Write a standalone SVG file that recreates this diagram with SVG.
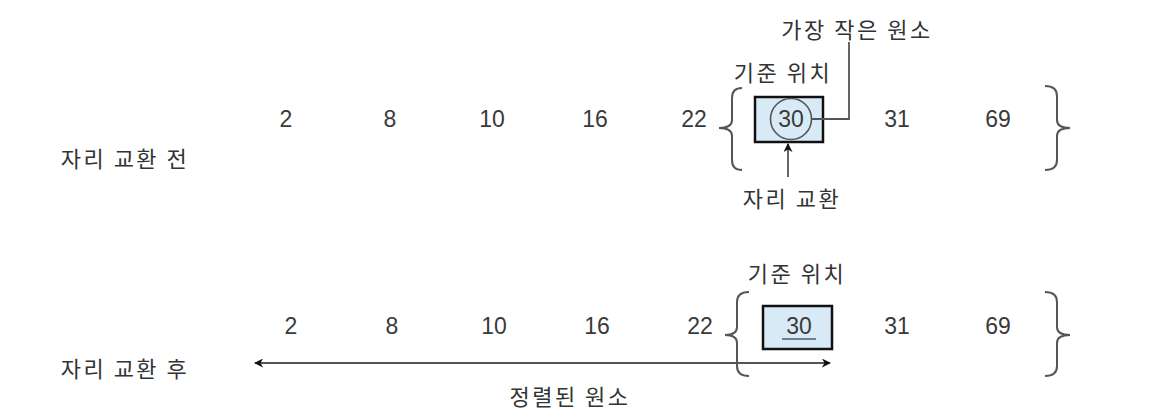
<svg xmlns="http://www.w3.org/2000/svg" width="1159" height="419" viewBox="0 0 1159 419">
<style>
.num{font-family:"Liberation Sans",Arial,sans-serif;font-size:23px;fill:#3a3a3a;text-anchor:middle;dominant-baseline:central}
.lbl{font-family:"Noto Sans CJK KR","Noto Sans",sans-serif;font-size:22px;font-weight:400;fill:#333;letter-spacing:2.5px;text-anchor:middle;dominant-baseline:central}
.brace{fill:none;stroke:#555;stroke-width:2}
.box{fill:#d9eaf7;stroke:#111;stroke-width:2.5}
.line{fill:none;stroke:#555;stroke-width:1.8}
</style>
<defs>
<marker id="ah" viewBox="0 0 10 10" refX="9" refY="5" markerWidth="9" markerHeight="9" orient="auto-start-reverse" markerUnits="userSpaceOnUse">
<path d="M0,0 L10,5 L0,10 L3,5 z" fill="#111"/>
</marker>
</defs>
<rect width="1159" height="419" fill="#fff"/>

<g id="row-before">
<text class="lbl" x="125" y="157">자리 교환 전</text>
<text class="num" x="286" y="119">2</text>
<text class="num" x="390" y="119">8</text>
<text class="num" x="492" y="119">10</text>
<text class="num" x="595" y="119">16</text>
<text class="num" x="694" y="119">22</text>
<text class="num" x="897" y="119">31</text>
<text class="num" x="998" y="119">69</text>
<path class="brace" d="M742,88 Q732,88 732,98 L732,120 Q732,128 719,128 Q732,128 732,136 L732,160 Q732,170 742,170"/>
<path class="brace" d="M1045,86 Q1057,86 1057,96 L1057,120 Q1057,128 1070,128 Q1057,128 1057,136 L1057,160 Q1057,170 1045,170"/>
</g>

<g id="node-min-before">
<rect class="box" x="755" y="97" width="68" height="45"/>
<circle cx="791" cy="119" r="20.5" fill="none" stroke="#555" stroke-width="1.6"/>
<text class="num" x="791" y="119">30</text>
</g>

<g id="label-base-before">
<text class="lbl" x="783" y="71">기준 위치</text>
</g>
<g id="label-min">
<text class="lbl" x="857" y="28">가장 작은 원소</text>
</g>
<g id="label-swap">
<text class="lbl" x="792" y="197">자리 교환</text>
</g>

<g id="row-after">
<text class="lbl" x="125" y="367">자리 교환 후</text>
<text class="num" x="291" y="326">2</text>
<text class="num" x="392" y="326">8</text>
<text class="num" x="494" y="326">10</text>
<text class="num" x="597" y="326">16</text>
<text class="num" x="700" y="326">22</text>
<text class="num" x="897" y="326">31</text>
<text class="num" x="998" y="326">69</text>
<path class="brace" d="M749,292 Q737,292 737,302 L737,327 Q737,335 725,335 Q737,335 737,343 L737,366 Q737,376 749,376"/>
<path class="brace" d="M1045,292 Q1057,292 1057,302 L1057,327 Q1057,335 1070,335 Q1057,335 1057,343 L1057,366 Q1057,376 1045,376"/>
</g>

<g id="node-min-after">
<rect class="box" x="763" y="306" width="69" height="43"/>
<text class="num" x="799" y="326">30</text>
<line x1="782" y1="339" x2="816" y2="339" stroke="#6a7f95" stroke-width="2"/>
</g>

<g id="label-base-after">
<text class="lbl" x="797" y="272">기준 위치</text>
</g>
<g id="label-sorted">
<text class="lbl" x="570" y="395">정렬된 원소</text>
</g>

<g id="connectors">
<polyline class="line" points="812,119 849,119 849,42"/>
<line class="line" x1="788" y1="177" x2="788" y2="144" marker-end="url(#ah)"/>
<line class="line" x1="255" y1="363" x2="830" y2="363" marker-start="url(#ah)" marker-end="url(#ah)"/>
</g>
</svg>
